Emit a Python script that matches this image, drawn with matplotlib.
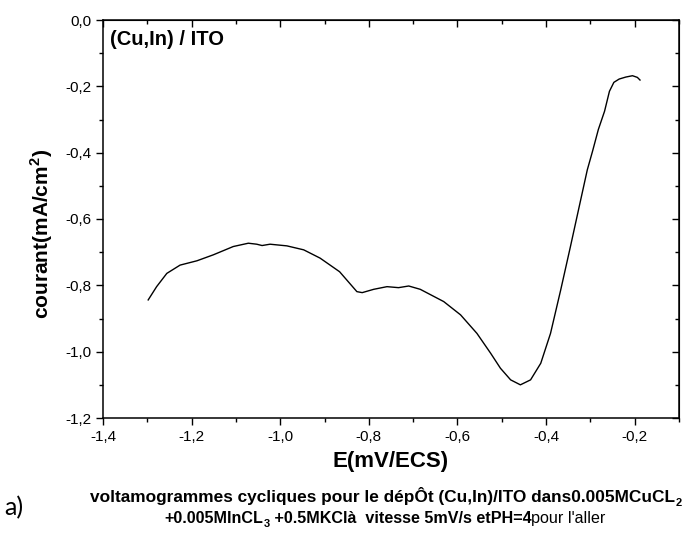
import matplotlib
matplotlib.use('Agg')
import matplotlib.pyplot as plt
from matplotlib.ticker import MultipleLocator, FuncFormatter
from matplotlib.transforms import IdentityTransform

# potential (V) and current density
E = [-1.298, -1.279, -1.256, -1.226, -1.188, -1.151, -1.124, -1.106, -1.072,
     -1.053, -1.041, -1.023, -0.985, -0.947, -0.910, -0.866, -0.827, -0.815,
     -0.789, -0.759, -0.733, -0.710, -0.684, -0.631, -0.593, -0.556, -0.525,
     -0.503, -0.480, -0.458, -0.435, -0.412, -0.390, -0.367, -0.345, -0.322,
     -0.307, -0.295, -0.282, -0.268, -0.257, -0.247, -0.235, -0.220, -0.205,
     -0.194, -0.188]
I = [-0.844, -0.804, -0.764, -0.739, -0.726, -0.708, -0.693, -0.683, -0.673,
     -0.676, -0.680, -0.676, -0.681, -0.693, -0.718, -0.759, -0.819, -0.822,
     -0.812, -0.804, -0.807, -0.802, -0.812, -0.849, -0.889, -0.945, -1.005,
     -1.050, -1.085, -1.100, -1.085, -1.035, -0.945, -0.814, -0.683, -0.543,
     -0.452, -0.395, -0.330, -0.275, -0.215, -0.188, -0.178, -0.172, -0.168,
     -0.173, -0.181]

plt.rcParams['font.family'] = ['Liberation Sans', 'DejaVu Sans']
plt.rcParams['mathtext.fontset'] = 'custom'
plt.rcParams['mathtext.rm'] = 'Liberation Sans'
plt.rcParams['mathtext.bf'] = 'Liberation Sans:bold'

fig = plt.figure(figsize=(6.88, 5.34), dpi=100)
ax = fig.add_axes([103 / 688, 1 - 418 / 534, 576 / 688, 398 / 534])
ax.plot(E, I, color='black', lw=1.0)
ax.set_xlim(-1.4, -0.1)
ax.set_ylim(-1.2, 0.0)

comma = FuncFormatter(lambda v, p: '{:.1f}'.format(round(v, 3) + 0.0).replace('.', ','))
ax.xaxis.set_major_locator(MultipleLocator(0.2))
ax.xaxis.set_minor_locator(MultipleLocator(0.1))
ax.yaxis.set_major_locator(MultipleLocator(0.2))
ax.yaxis.set_minor_locator(MultipleLocator(0.1))
ax.xaxis.set_major_formatter(comma)
ax.yaxis.set_major_formatter(comma)
ax.tick_params(which='both', direction='out', labelsize=11, width=1.0)
ax.tick_params(which='major', length=5)
ax.tick_params(which='minor', length=3)
for s in ax.spines.values():
    s.set_linewidth(1.1)

# inward ticks on top and right
top = ax.secondary_xaxis('top')
right = ax.secondary_yaxis('right')
for sec, axis in ((top, top.xaxis), (right, right.yaxis)):
    axis.set_major_locator(MultipleLocator(0.2))
    axis.set_minor_locator(MultipleLocator(0.1))
    sec.tick_params(which='both', direction='in', labelleft=False, labelright=False,
                    labeltop=False, labelbottom=False, width=1.0)
    sec.tick_params(which='major', length=5)
    sec.tick_params(which='minor', length=3)

ax.text(0.012, 0.95, '(Cu,In) / ITO', transform=ax.transAxes, fontsize=14.5,
        fontweight='bold', va='center', ha='left')

ax.set_xlabel('E(mV/ECS)', fontsize=16, fontweight='bold', labelpad=5)
fig.text(42 / 688, 1 - 234 / 534, r'courant(mA/cm$^\mathbf{2}$)', rotation=90,
         fontsize=15, fontweight='bold', ha='center', va='center')

fig.text(4 / 688, 1 - 508 / 534, 'a)', fontsize=18, family='Lato',
         ha='left', va='center')

renderer = fig.canvas.get_renderer()


def put_line(pieces, baseline, xc):
    # lay pieces side by side, then centre the whole line on xc (pixels)
    items = []
    x = 0.0
    for s, size, weight, dy in pieces:
        t = fig.text(x, baseline + dy, s, fontsize=size, fontweight=weight,
                     ha='left', va='baseline', transform=IdentityTransform())
        w = t.get_window_extent(renderer).width
        items.append((t, x))
        x += w
    shift = xc - x / 2
    for t, x0 in items:
        t.set_x(x0 + shift)


put_line([('voltamogrammes cycliques pour le dépÔt (Cu,In)/ITO dans0.005MCuCL', 12.4, 'bold', 0),
          ('2', 8, 'bold', -4)], 534 - 502, 386)
put_line([('+0.005MInCL', 11.6, 'bold', 0), ('3', 8, 'bold', -4),
          (' +0.5MKClà  vitesse 5mV/s etPH=4', 11.6, 'bold', 0),
          ('pour l\'aller', 11.6, 'normal', 0)], 534 - 523, 385)

fig.savefig('out.png', dpi=100)
